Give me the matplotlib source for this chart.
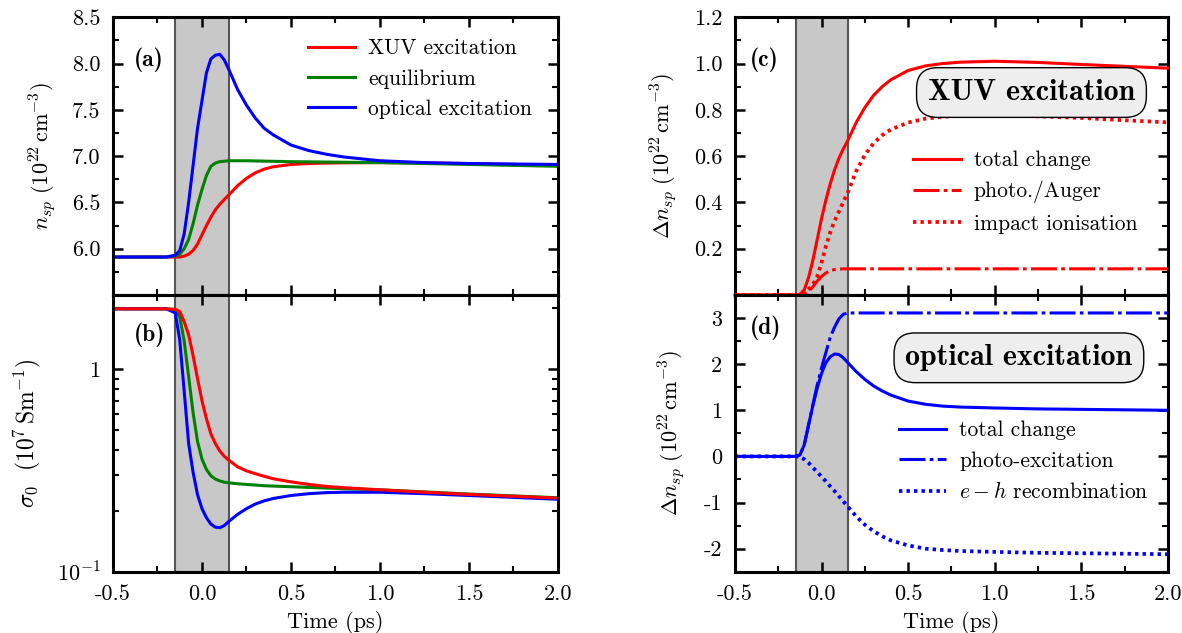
import numpy as np
import matplotlib
matplotlib.use('Agg')
import matplotlib.pyplot as plt
from matplotlib.ticker import MultipleLocator, FixedLocator, NullFormatter, FormatStrFormatter, LogLocator

plt.rcParams['font.family'] = 'serif'
plt.rcParams['font.serif'] = ['cmr10']
plt.rcParams['mathtext.fontset'] = 'cm'
plt.rcParams['axes.unicode_minus'] = False

# time grid (ps)
t = [-0.5, -0.2, -0.15, -0.125, -0.1, -0.075, -0.05, -0.025, 0.0, 0.025, 0.05, 0.075,
     0.1, 0.125, 0.15, 0.2, 0.25, 0.3, 0.35, 0.4, 0.5, 0.6, 0.7, 0.8, 1.0, 1.25, 1.5, 1.75, 2.0]

# (a) n_sp
nsp_xuv = [5.91, 5.91, 5.91, 5.91, 5.92, 5.94, 5.98, 6.05, 6.15, 6.25, 6.34, 6.42,
           6.48, 6.53, 6.58, 6.68, 6.76, 6.82, 6.86, 6.885, 6.91, 6.92, 6.925, 6.928, 6.93, 6.927, 6.92, 6.91, 6.9]
nsp_eq = [5.91, 5.91, 5.92, 5.94, 6.0, 6.1, 6.27, 6.47, 6.64, 6.79, 6.89, 6.925,
          6.94, 6.945, 6.95, 6.95, 6.95, 6.948, 6.946, 6.944, 6.94, 6.938, 6.936, 6.934, 6.93, 6.92, 6.91, 6.9, 6.89]
nsp_opt = [5.91, 5.91, 5.93, 5.98, 6.16, 6.5, 6.9, 7.3, 7.6, 7.9, 8.05, 8.09,
           8.1, 8.04, 7.94, 7.72, 7.55, 7.41, 7.3, 7.23, 7.12, 7.06, 7.02, 6.99, 6.95, 6.93, 6.92, 6.915, 6.91]

# (b) sigma_0
sig_xuv = [1.99, 1.99, 1.98, 1.93, 1.72, 1.48, 1.17, 0.9, 0.7, 0.57, 0.48, 0.43,
           0.395, 0.372, 0.356, 0.33, 0.315, 0.305, 0.296, 0.288, 0.278, 0.27, 0.264, 0.26, 0.254, 0.247, 0.241, 0.236, 0.231]
sig_eq = [1.99, 1.99, 1.97, 1.82, 1.38, 0.92, 0.61, 0.44, 0.36, 0.32, 0.298, 0.287,
          0.281, 0.277, 0.275, 0.272, 0.27, 0.268, 0.266, 0.265, 0.263, 0.261, 0.259, 0.257, 0.254, 0.248, 0.242, 0.237, 0.232]
sig_opt = [1.99, 1.99, 1.9, 1.4, 0.78, 0.43, 0.31, 0.24, 0.205, 0.185, 0.172, 0.166,
           0.165, 0.169, 0.177, 0.192, 0.205, 0.216, 0.224, 0.23, 0.238, 0.243, 0.246, 0.247, 0.247, 0.243, 0.238, 0.233, 0.228]

# (c) XUV excitation
xuv_total = [0, 0, 0, 0.003, 0.022, 0.075, 0.15, 0.24, 0.33, 0.41, 0.48, 0.54,
             0.59, 0.63, 0.665, 0.745, 0.81, 0.862, 0.9, 0.93, 0.97, 0.99, 1.0, 1.006, 1.01, 1.005, 0.996, 0.988, 0.98]
xuv_photo = [0, 0, 0, 0.001, 0.005, 0.015, 0.035, 0.06, 0.08, 0.095, 0.105, 0.11,
             0.112, 0.113, 0.113, 0.113, 0.113, 0.113, 0.113, 0.113, 0.113, 0.113, 0.113, 0.113, 0.113, 0.113, 0.113, 0.113, 0.113]
xuv_impact = [0, 0, 0, 0.0, 0.008, 0.025, 0.045, 0.08, 0.14, 0.21, 0.27, 0.32,
              0.36, 0.4, 0.44, 0.535, 0.605, 0.655, 0.69, 0.715, 0.745, 0.762, 0.77, 0.775, 0.776, 0.772, 0.765, 0.755, 0.746]

# (d) optical excitation
opt_total = [0, 0, 0, 0.03, 0.25, 0.68, 1.1, 1.48, 1.8, 2.03, 2.16, 2.22,
             2.21, 2.14, 2.04, 1.84, 1.67, 1.53, 1.42, 1.33, 1.2, 1.13, 1.09, 1.07, 1.05, 1.03, 1.02, 1.01, 1.0]
opt_photo = [0, 0, 0, 0.03, 0.25, 0.68, 1.12, 1.55, 1.92, 2.25, 2.58, 2.8,
             2.98, 3.08, 3.11, 3.11, 3.11, 3.11, 3.11, 3.11, 3.11, 3.11, 3.11, 3.11, 3.11, 3.11, 3.11, 3.11, 3.11]
opt_recomb = [0, 0, 0, -0.01, -0.06, -0.14, -0.24, -0.34, -0.44, -0.54, -0.65, -0.75,
              -0.86, -0.97, -1.08, -1.3, -1.48, -1.62, -1.73, -1.82, -1.93, -2.0, -2.03, -2.05, -2.07, -2.09, -2.1, -2.11, -2.12]

RED = '#ff0000'
GREEN = '#008000'
BLUE = '#0000ff'
LW = 2.2
DOT = (0, (0.9, 1.1))
DASHDOT = (0, (8.5, 1.4, 1.2, 1.4))
TICK_FS = 16
LAB_FS = 16
LEG_FS = 15.5


def style(ax):
    for s in ax.spines.values():
        s.set_linewidth(2.2)
    ax.tick_params(which='both', direction='in', top=True, right=True, labelsize=TICK_FS, pad=9)
    ax.tick_params(which='major', length=7, width=1.8)
    ax.tick_params(which='minor', length=4, width=1.5)
    ax.set_xlim(-0.5, 2.0)
    ax.xaxis.set_major_locator(MultipleLocator(0.5))
    ax.xaxis.set_minor_locator(MultipleLocator(0.25))
    ax.axvspan(-0.15, 0.15, facecolor='#c8c8c8', edgecolor='#555555', lw=1.5, zorder=0)


def add_legend(ax, x, y):
    ax.legend(loc='center left', bbox_to_anchor=(x, y), frameon=False, fontsize=LEG_FS,
              handlelength=2.2, handletextpad=0.6, labelspacing=0.5, borderpad=0, borderaxespad=0)


box = dict(boxstyle='round,pad=0.38,rounding_size=0.7', facecolor='#eeeeee', edgecolor='black', lw=1)

fig = plt.figure(figsize=(11.82, 6.33), dpi=100)
L0, L1 = 0.0956, 0.472
R0, R1 = 0.6218, 0.988
B0, MID, T1 = 0.0968, 0.534, 0.9727

ax_a = fig.add_axes([L0, MID, L1 - L0, T1 - MID])
ax_b = fig.add_axes([L0, B0, L1 - L0, MID - B0])
ax_c = fig.add_axes([R0, MID, R1 - R0, T1 - MID])
ax_d = fig.add_axes([R0, B0, R1 - R0, MID - B0])

# (a)
style(ax_a)
ax_a.plot(t, nsp_xuv, color=RED, lw=LW, label='XUV excitation')
ax_a.plot(t, nsp_eq, color=GREEN, lw=LW, label='equilibrium')
ax_a.plot(t, nsp_opt, color=BLUE, lw=LW, label='optical excitation')
ax_a.set_ylim(5.5, 8.5)
ax_a.set_yticks([6.0, 6.5, 7.0, 7.5, 8.0, 8.5])
ax_a.yaxis.set_major_formatter(FormatStrFormatter('%.1f'))
ax_a.yaxis.set_minor_locator(MultipleLocator(0.25))
ax_a.tick_params(labelbottom=False)
ax_a.set_ylabel(r'$n_{sp}\ (10^{22}\,\mathrm{cm}^{-3})$', fontsize=LAB_FS)
ax_a.yaxis.set_label_coords(-0.124, 0.5)
add_legend(ax_a, 0.438, 0.778)
ax_a.text(0.047, 0.846, '(a)', transform=ax_a.transAxes, fontsize=17, family='cmb10', va='center')

# (b)
style(ax_b)
ax_b.plot(t, sig_eq, color=GREEN, lw=LW)
ax_b.plot(t, sig_opt, color=BLUE, lw=LW)
ax_b.plot(t, sig_xuv, color=RED, lw=LW)
ax_b.set_yscale('log')
ax_b.set_ylim(0.1, 2.33)
ax_b.yaxis.set_major_locator(FixedLocator([0.1, 1.0]))
ax_b.set_yticklabels([r'$10^{-1}$', '1'])
ax_b.yaxis.set_minor_locator(LogLocator(base=10, subs=np.arange(2, 10)))
ax_b.yaxis.set_minor_formatter(NullFormatter())
ax_b.set_xlabel('Time (ps)', fontsize=LAB_FS, labelpad=5)
ax_b.set_ylabel(r'$\sigma_0\ \ (10^{7}\,\mathrm{Sm}^{-1})$', fontsize=17)
ax_b.yaxis.set_label_coords(-0.157, 0.5)
ax_b.text(0.047, 0.855, '(b)', transform=ax_b.transAxes, fontsize=17, family='cmb10', va='center')

# (c)
style(ax_c)
ax_c.plot(t, xuv_total, color=RED, lw=LW, label='total change', clip_on=False, zorder=3)
ax_c.plot(t, xuv_photo, color=RED, lw=LW, ls=DASHDOT, label='photo./Auger', clip_on=False, zorder=3)
ax_c.plot(t, xuv_impact, color=RED, lw=LW + 0.5, ls=DOT, label='impact ionisation', clip_on=False, zorder=3)
ax_c.set_ylim(0, 1.2)
ax_c.set_yticks([0.2, 0.4, 0.6, 0.8, 1.0, 1.2])
ax_c.yaxis.set_major_formatter(FormatStrFormatter('%.1f'))
ax_c.yaxis.set_minor_locator(MultipleLocator(0.1))
ax_c.tick_params(labelbottom=False)
ax_c.set_ylabel(r'$\Delta n_{sp}\ (10^{22}\,\mathrm{cm}^{-3})$', fontsize=LAB_FS)
ax_c.yaxis.set_label_coords(-0.129, 0.5)
add_legend(ax_c, 0.412, 0.37)
ax_c.text(0.035, 0.846, '(c)', transform=ax_c.transAxes, fontsize=17, family='cmb10', va='center')
ax_c.text(0.685, 0.729, 'XUV excitation', transform=ax_c.transAxes, fontsize=21.5, family='cmb10',
          ha='center', va='center', bbox=box)

# (d)
style(ax_d)
ax_d.plot(t, opt_total, color=BLUE, lw=LW, label='total change')
ax_d.plot(t, opt_photo, color=BLUE, lw=LW, ls=DASHDOT, label='photo-excitation')
ax_d.plot(t, opt_recomb, color=BLUE, lw=LW + 0.5, ls=DOT, label=r'$e-h$ recombination')
ax_d.set_ylim(-2.5, 3.5)
ax_d.set_yticks([-2, -1, 0, 1, 2, 3])
ax_d.yaxis.set_major_formatter(FormatStrFormatter('%d'))
ax_d.yaxis.set_minor_locator(MultipleLocator(0.5))
ax_d.set_xlabel('Time (ps)', fontsize=LAB_FS, labelpad=5)
ax_d.set_ylabel(r'$\Delta n_{sp}\ (10^{22}\,\mathrm{cm}^{-3})$', fontsize=LAB_FS)
ax_d.yaxis.set_label_coords(-0.111, 0.5)
add_legend(ax_d, 0.379, 0.398)
ax_d.text(0.035, 0.883, '(d)', transform=ax_d.transAxes, fontsize=17, family='cmb10', va='center')
ax_d.text(0.656, 0.773, 'optical excitation', transform=ax_d.transAxes, fontsize=21.5, family='cmb10',
          ha='center', va='center', bbox=box)

fig.savefig('out.png', dpi=100)
